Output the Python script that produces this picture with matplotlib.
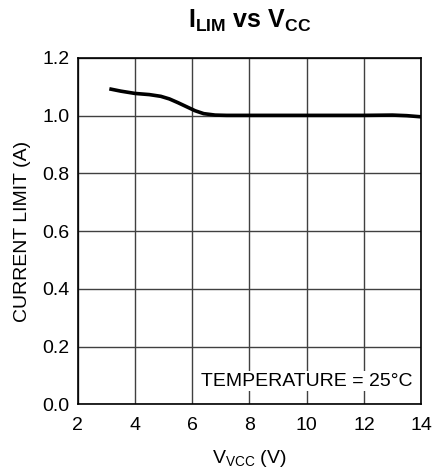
import numpy as np
import matplotlib.pyplot as plt

plt.rcParams['font.family'] = 'Liberation Sans'
plt.rcParams['mathtext.fontset'] = 'custom'
plt.rcParams['mathtext.rm'] = 'Liberation Sans'
plt.rcParams['mathtext.it'] = 'Liberation Sans'
plt.rcParams['mathtext.bf'] = 'Liberation Sans:bold'

# I_LIM vs V_CC
vcc = [3.1, 3.5, 4.0, 4.5, 4.9, 5.2, 5.5, 5.8, 6.1, 6.4, 6.8, 7.2, 8.0, 10.0, 12.0, 13.0, 13.5, 14.0]
ilim = [1.093, 1.085, 1.077, 1.073, 1.067, 1.058, 1.045, 1.031, 1.017, 1.007, 1.002, 1.001, 1.001,
        1.001, 1.001, 1.002, 1.000, 0.996]

xticks = [2, 4, 6, 8, 10, 12, 14]
yticks = [0.0, 0.2, 0.4, 0.6, 0.8, 1.0, 1.2]

fig = plt.figure(figsize=(4.35, 4.75), dpi=100)
ax = fig.add_axes([0.179, 0.149, 0.789, 0.729])

ax.plot(vcc, ilim, color='black', lw=2.6, solid_capstyle='butt', zorder=4)

ax.set_xlim(2, 14)
ax.set_ylim(0, 1.2)
ax.set_xticks(xticks)
ax.set_yticks(yticks)
ax.set_yticklabels(['%.1f' % v for v in yticks])
ax.tick_params(length=0, labelsize=14, pad=6)
ax.tick_params(axis='x', pad=9)
ax.grid(True, color='#404040', lw=1.0)
for s in ax.spines.values():
    s.set_linewidth(1.2)
    s.set_zorder(5)

ax.set_xlabel(r'$\mathregular{V_{VCC}}$ (V)', fontsize=14, labelpad=10)
ax.set_ylabel('CURRENT LIMIT (A)', fontsize=14, labelpad=8)
ax.set_title(r'$\mathbf{I_{LIM}}$ vs $\mathbf{V_{CC}}$', fontsize=18, fontweight='bold', pad=22)

ax.text(13.7, 0.08, 'TEMPERATURE = 25°C', ha='right', va='center', fontsize=14,
        bbox=dict(facecolor='white', edgecolor='none', pad=1), zorder=3)

fig.savefig('out.png', dpi=100)
